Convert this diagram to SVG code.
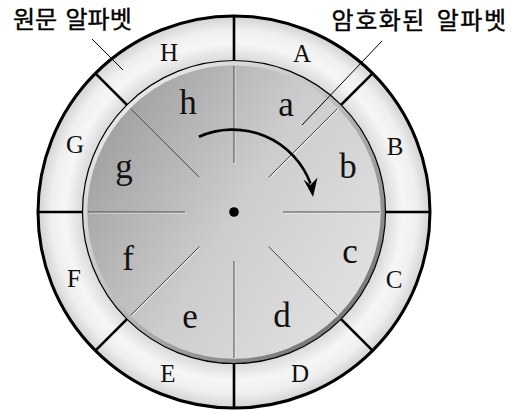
<svg xmlns="http://www.w3.org/2000/svg" width="511" height="410" viewBox="0 0 511 410">
<defs>
<radialGradient id="ringFill" gradientUnits="userSpaceOnUse" cx="234" cy="212" r="196">
<stop offset="0.76" stop-color="#d6d6d6"/>
<stop offset="0.86" stop-color="#f6f6f6"/>
<stop offset="0.93" stop-color="#efefef"/>
<stop offset="1" stop-color="#d2d2d2"/>
</radialGradient>
<linearGradient id="diskFill" gradientUnits="userSpaceOnUse" x1="95" y1="130" x2="375" y2="300">
<stop offset="0" stop-color="#9f9f9f"/>
<stop offset="0.5" stop-color="#cdcdcd"/>
<stop offset="1" stop-color="#e2e2e2"/>
</linearGradient>
<linearGradient id="rimStroke" gradientUnits="userSpaceOnUse" x1="120" y1="90" x2="350" y2="340">
<stop offset="0" stop-color="#ebebeb"/>
<stop offset="0.45" stop-color="#bdbdbd"/>
<stop offset="1" stop-color="#707070"/>
</linearGradient>
</defs>
<style>
.ko{font-family:"Noto Sans CJK KR","Noto Sans",sans-serif;font-size:24px;font-weight:400;fill:#000;stroke:#000;stroke-width:0.4}
.up{font-family:"Liberation Serif","Times New Roman",serif;font-size:25px;fill:#111;text-anchor:middle}
.lo{font-family:"Liberation Serif","Times New Roman",serif;font-size:35px;fill:#111;text-anchor:middle}
.div{stroke:#000;stroke-width:2.6;fill:none}
.gd{stroke:#4a4a4a;stroke-width:1;fill:none}
.gl{stroke:#f4f4f4;stroke-width:1;fill:none}
.ptr{stroke:#000;stroke-width:1;fill:none}
</style>

<g id="outer-ring">
<circle cx="234" cy="212" r="196" fill="url(#ringFill)" stroke="#000" stroke-width="3"/>
</g>

<g id="inner-disk">
<circle cx="234" cy="212" r="149" fill="url(#diskFill)" stroke="url(#rimStroke)" stroke-width="4.5"/>
<circle cx="234" cy="212" r="151.5" fill="none" stroke="#000" stroke-width="1.2"/>
<circle cx="234" cy="212" r="4.8" fill="#000"/>
</g>

<g id="connectors">
<g id="ring-dividers">
<line class="div" x1="234" y1="16" x2="234" y2="61"/>
<line class="div" x1="340.8" y1="105.2" x2="372.6" y2="73.4"/>
<line class="div" x1="385" y1="212" x2="430" y2="212"/>
<line class="div" x1="340.8" y1="318.8" x2="372.6" y2="350.6"/>
<line class="div" x1="234" y1="363" x2="234" y2="408"/>
<line class="div" x1="127.2" y1="318.8" x2="95.4" y2="350.6"/>
<line class="div" x1="83" y1="212" x2="38" y2="212"/>
<line class="div" x1="127.2" y1="105.2" x2="95.4" y2="73.4"/>
</g>
<g id="disk-dividers">
<g transform="translate(0.9,0.9)">
<line class="gl" x1="234" y1="163" x2="234" y2="66"/>
<line class="gl" x1="268.6" y1="177.4" x2="337.2" y2="108.8"/>
<line class="gl" x1="283" y1="212" x2="380" y2="212"/>
<line class="gl" x1="268.6" y1="246.6" x2="337.2" y2="315.2"/>
<line class="gl" x1="234" y1="261" x2="234" y2="358"/>
<line class="gl" x1="199.4" y1="246.6" x2="130.8" y2="315.2"/>
<line class="gl" x1="185" y1="212" x2="88" y2="212"/>
<line class="gl" x1="199.4" y1="177.4" x2="130.8" y2="108.8"/>
</g>
<line class="gd" x1="234" y1="163" x2="234" y2="66"/>
<line class="gd" x1="268.6" y1="177.4" x2="337.2" y2="108.8"/>
<line class="gd" x1="283" y1="212" x2="380" y2="212"/>
<line class="gd" x1="268.6" y1="246.6" x2="337.2" y2="315.2"/>
<line class="gd" x1="234" y1="261" x2="234" y2="358"/>
<line class="gd" x1="199.4" y1="246.6" x2="130.8" y2="315.2"/>
<line class="gd" x1="185" y1="212" x2="88" y2="212"/>
<line class="gd" x1="199.4" y1="177.4" x2="130.8" y2="108.8"/>
</g>
<g id="rotation-arrow">
<path d="M198.9,136.8 A83,83 0 0 1 310.5,183.5" fill="none" stroke="#000" stroke-width="2.6"/>
<polygon points="313,197 303.5,179.5 310.5,185 317.5,177.5" fill="#000"/>
</g>
<g id="pointers">
<line class="ptr" x1="92" y1="39" x2="123" y2="70"/>
<line class="ptr" x1="382" y1="41" x2="302" y2="125"/>
</g>
</g>

<g id="plain-letters">
<text class="up" x="169" y="61">H</text>
<text class="up" x="302" y="62">A</text>
<text class="up" x="395" y="155">B</text>
<text class="up" x="394" y="288">C</text>
<text class="up" x="300" y="382">D</text>
<text class="up" x="168" y="382">E</text>
<text class="up" x="74" y="287">F</text>
<text class="up" x="75" y="153">G</text>
</g>

<g id="cipher-letters">
<text class="lo" x="188" y="114">h</text>
<text class="lo" x="286" y="116">a</text>
<text class="lo" x="348" y="178">b</text>
<text class="lo" x="350" y="263">c</text>
<text class="lo" x="282" y="327">d</text>
<text class="lo" x="190" y="328">e</text>
<text class="lo" x="128" y="270">f</text>
<text class="lo" x="124" y="178">g</text>
</g>

<g id="label-plain">
<text class="ko" x="13" y="28" word-spacing="3">원문 알파벳</text>
</g>
<g id="label-cipher">
<text class="ko" x="507.5" y="29" text-anchor="end" letter-spacing="1.5" word-spacing="4">암호화된 알파벳</text>
</g>
</svg>
